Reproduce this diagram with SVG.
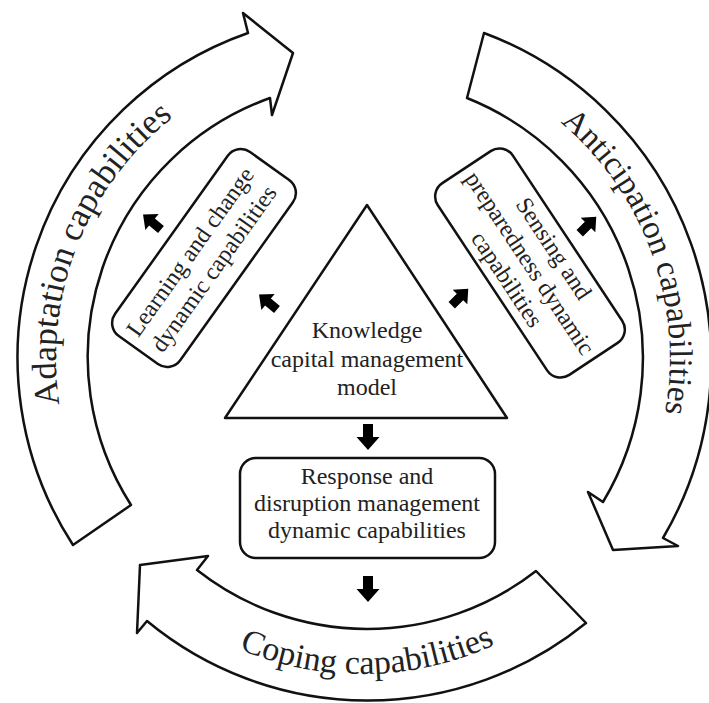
<svg xmlns="http://www.w3.org/2000/svg" xmlns:xlink="http://www.w3.org/1999/xlink" width="709" height="703" viewBox="0 0 709 703">
<style>
.shape{fill:#fff;stroke:#111;stroke-width:2.5;stroke-linejoin:round}
.t{font-family:"Liberation Serif","Times New Roman",serif;fill:#222;text-anchor:middle}
.big{font-size:34px}
.mid{font-size:24px}
.con{fill:#000}
</style>
<defs>
<path id="blk" d="M-5,13 L5,13 L5,0 L11.5,0 L0,-13 L-11.5,0 L-5,0 Z"/>
<path id="pAdapt" d="M122.2,548.1 A306 306 0 0 1 317.3,55.3" fill="none"/>
<path id="pAntic" d="M416.5,54.9 A308 308 0 0 1 597.2,556.8" fill="none"/>
<path id="pCoping" d="M91.1,520.7 A316 316 0 0 0 638.4,511.2" fill="none"/>
</defs>
<rect width="709" height="703" fill="#fff"/>

<g id="adaptation">
<path class="shape" d="M73,545 A344 344 0 0 1 248,33 L243,13 L293,53 L272,115 L270,98 A275 275 0 0 0 131,505 Z"/>
<text class="t big" style="font-size:35px"><textPath xlink:href="#pAdapt" href="#pAdapt" startOffset="50%">Adaptation capabilities</textPath></text>
</g>

<g id="anticipation">
<path class="shape" d="M484,33 A350 350 0 0 1 663,538 L678,546 L613,550 L588,492 L603,502 A280 280 0 0 0 467,98 Z"/>
<text class="t big" style="font-size:33px"><textPath xlink:href="#pAntic" href="#pAntic" startOffset="50%">Anticipation capabilities</textPath></text>
</g>

<g id="coping">
<path class="shape" d="M586,623 A346 346 0 0 1 147,621 L137,633 L140,565 L208,556 L197,570 A275 275 0 0 0 536,571 Z"/>
<text class="t big"><textPath xlink:href="#pCoping" href="#pCoping" startOffset="50%">Coping capabilities</textPath></text>
</g>

<g id="knowledge">
<polygon class="shape" points="367,205 507,418 225,418"/>
<text class="t mid" x="367" y="338">Knowledge</text>
<text class="t mid" x="367" y="367">capital management</text>
<text class="t mid" x="367" y="395">model</text>
</g>

<g id="learning" transform="translate(204,258) rotate(-54.5)">
<rect class="shape" x="-113" y="-40" width="226" height="80" rx="16"/>
<text class="t mid" x="-3" y="-7">Learning and change</text>
<text class="t mid" x="-3" y="22">dynamic capabilities</text>
</g>

<g id="sensing" transform="translate(530,263) rotate(56.5)">
<rect class="shape" x="-115" y="-45" width="230" height="90" rx="16"/>
<text class="t mid" x="1" y="-20">Sensing and</text>
<text class="t mid" x="0" y="8">preparedness dynamic</text>
<text class="t mid" x="1" y="36">capabilities</text>
</g>

<g id="response">
<rect class="shape" x="240" y="458" width="255" height="100" rx="16"/>
<text class="t mid" x="367" y="484">Response and</text>
<text class="t mid" x="367" y="511">disruption management</text>
<text class="t mid" x="367" y="538">dynamic capabilities</text>
</g>

<g id="connectors" class="con">
<use href="#blk" xlink:href="#blk" transform="translate(368,437) rotate(180)"/>
<use href="#blk" xlink:href="#blk" transform="translate(368,589) rotate(180)"/>
<use href="#blk" xlink:href="#blk" transform="translate(268,302) rotate(-50) scale(0.9)"/>
<use href="#blk" xlink:href="#blk" transform="translate(152,222) rotate(-50) scale(0.9)"/>
<use href="#blk" xlink:href="#blk" transform="translate(460,297) rotate(45) scale(0.9)"/>
<use href="#blk" xlink:href="#blk" transform="translate(588,225) rotate(45) scale(0.9)"/>
</g>
</svg>
